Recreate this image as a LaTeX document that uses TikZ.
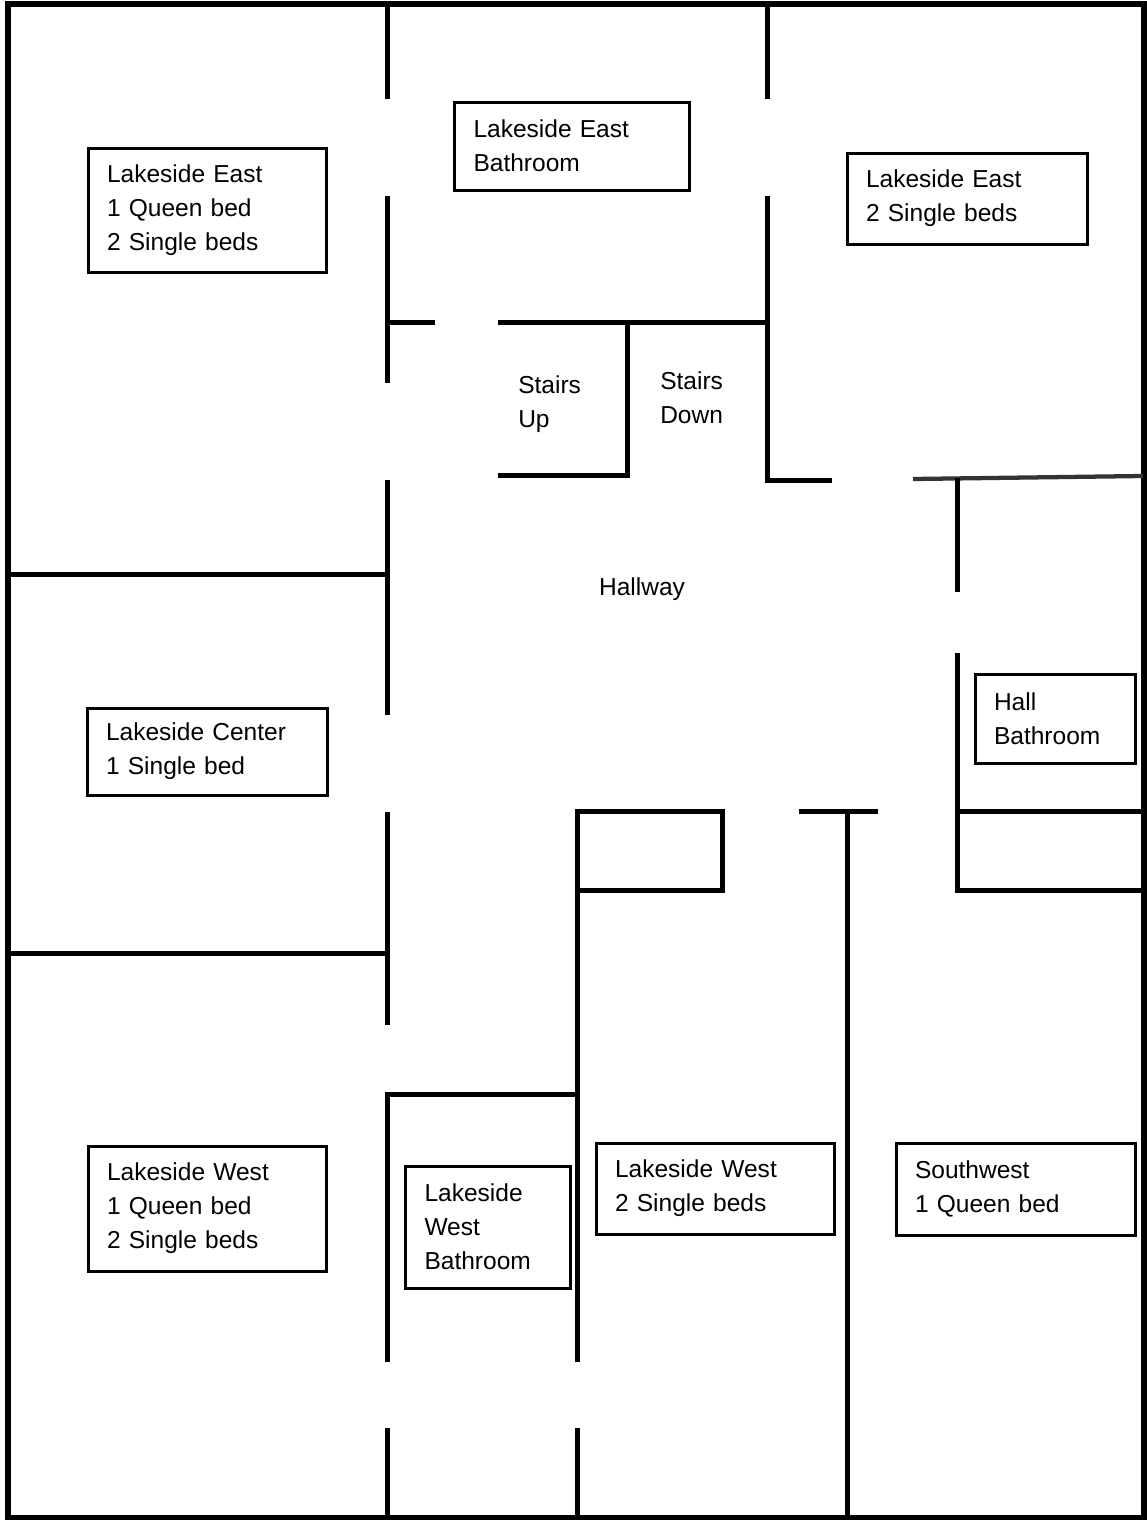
\documentclass[tikz,border=0pt]{standalone}
\usepackage{fontspec}
\setmainfont{Liberation Sans}
\begin{document}
\begin{tikzpicture}[x=0.75pt,y=-0.75pt,
  outer/.style={line width=4.5pt},
  wall/.style={line width=3.75pt},
  thinwall/.style={line width=3.2pt, black!80},
  label/.style={font=\fontsize{18.4pt}{25.5pt}\selectfont, align=left, inner sep=0pt},
  roombox/.style={draw, line width=2.25pt, font=\fontsize{18.4pt}{25.5pt}\selectfont,
    align=left, inner xsep=14.25pt, inner ysep=0pt}]
\useasboundingbox (0,0) rectangle (1146,1520);
% outer border
\draw[outer] (8,4.5) rectangle (1143.5,1517.5);
% west corridor wall x=387
\draw[wall] (387,5) -- (387,99);
\draw[wall] (387,196) -- (387,383);
\draw[wall] (387,480) -- (387,715);
\draw[wall] (387,812) -- (387,1025);
\draw[wall] (387,1362) -- (387,1094) -- (577,1094);
\draw[wall] (387,1428) -- (387,1518);
% west rooms separators
\draw[wall] (8,574) -- (387,574);
\draw[wall] (8,953) -- (387,953);
% stairs block
\draw[wall] (387,322) -- (435,322);
\draw[wall] (498,322) -- (767,322);
\draw[wall] (498,475) -- (627,475) -- (627,322);
% wall x=767
\draw[wall] (767,5) -- (767,99);
\draw[wall] (767,196) -- (767,480) -- (832,480);
% east side
\draw[thinwall] (913,479) -- (1143,476);
\draw[wall] (957,478) -- (957,592);
\draw[wall] (957,653) -- (957,890) -- (1143,890);
\draw[wall] (957,811) -- (1143,811);
% T wall
\draw[wall] (799,811) -- (878,811);
\draw[wall] (847,811) -- (847,1518);
% closet and wall x=577
\draw[wall] (577,1362) -- (577,811) -- (722,811) -- (722,890) -- (577,890);
\draw[wall] (577,1428) -- (577,1518);
% room labels
\node[roombox, minimum width=178.5pt, text width=150pt, minimum height=93pt] (le1) at (207,210)
  {Lakeside East\\1 Queen bed\\2 Single beds};
\node[roombox, minimum width=176.25pt, text width=147.75pt, minimum height=66pt] (leb) at (572,146)
  {Lakeside East\\Bathroom};
\node[roombox, minimum width=180pt, text width=151.5pt, minimum height=68.25pt] (le2) at (967,198.5)
  {Lakeside East\\2 Single beds};
\node[roombox, minimum width=180pt, text width=151.5pt, minimum height=65.25pt] (lc) at (207,751.5)
  {Lakeside Center\\1 Single bed};
\node[roombox, minimum width=120pt, text width=91.5pt, minimum height=66.75pt] (hb) at (1055,718.5)
  {Hall\\Bathroom};
\node[roombox, minimum width=178.5pt, text width=150pt, minimum height=93.75pt] (lw1) at (207,1208.5)
  {Lakeside West\\1 Queen bed\\2 Single beds};
\node[roombox, minimum width=123.75pt, text width=95.25pt, minimum height=91.5pt] (lwb) at (488,1227)
  {Lakeside\\West\\Bathroom};
\node[roombox, minimum width=178.5pt, text width=150pt, minimum height=68.25pt] (lw2) at (715,1188.5)
  {Lakeside West\\2 Single beds};
\node[roombox, minimum width=179.25pt, text width=150.75pt, minimum height=69pt] (sw) at (1015.5,1189)
  {Southwest\\1 Queen bed};
% free labels
\node[label, anchor=west] (su) at (518,404) {Stairs\\Up};
\node[label, anchor=west] (sd) at (660,398) {Stairs\\Down};
\node[label] (hw) at (642,589) {Hallway};
\end{tikzpicture}
\end{document}
